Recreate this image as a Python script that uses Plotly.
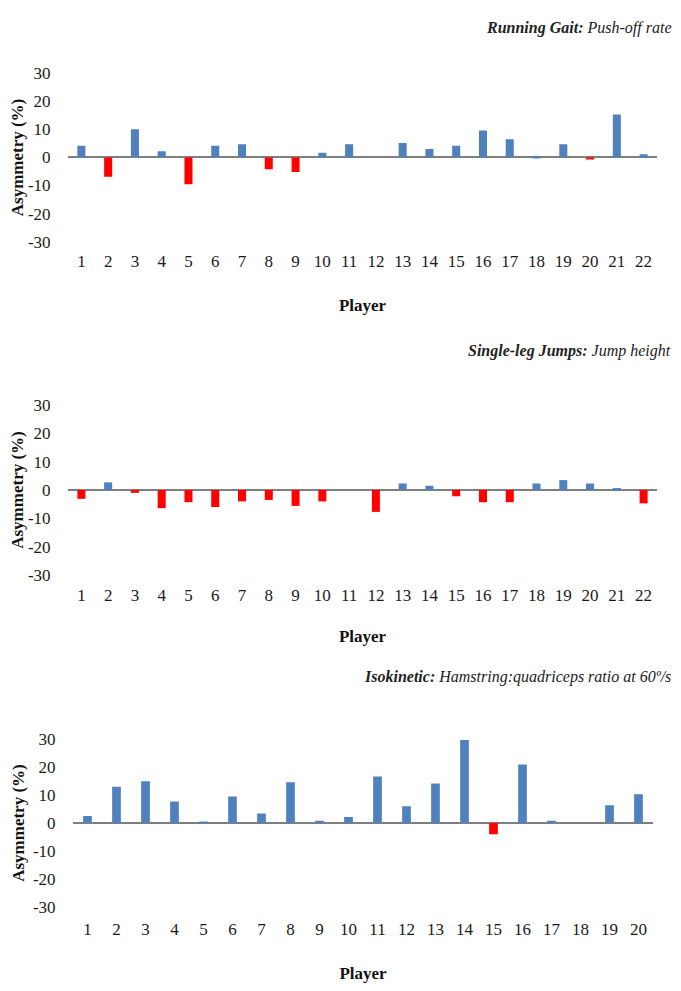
import plotly.graph_objects as go

# ---- data ----
players_gait = list(range(1, 23))
gait_pushoff = [4.2, -6.9, 10.1, 2.2, -9.5, 4.2, 4.7, -4.2, -5.2, 1.7, 4.7, 0.0,
                5.2, 3.0, 4.2, 9.6, 6.5, 0.5, 4.7, -0.7, 15.3, 1.2]

players_jump = list(range(1, 23))
jump_height = [-3.1, 2.7, -1.0, -6.4, -4.3, -6.0, -4.0, -3.5, -5.6, -4.0, 0.0, -7.7,
               2.3, 1.5, -2.2, -4.3, -4.3, 2.3, 3.5, 2.3, 0.7, -4.7]

players_iso = list(range(1, 21))
iso_hq_ratio = [2.5, 13.0, 15.0, 7.7, 0.5, 9.5, 3.4, 14.6, 0.8, 2.2, 16.7, 6.0,
                14.2, 29.8, -4.0, 21.0, 0.8, 0.0, 6.4, 10.3]

y_ticks = [-30, -20, -10, 0, 10, 20, 30]
y_tick_labels = ["-30", "-20", "-10", "0", "10", "20", "30"]

titles = [
    "<b><i>Running Gait:</i></b> <i>Push-off rate</i>",
    "<b><i>Single-leg Jumps:</i></b> <i>Jump height</i>",
    "<b><i>Isokinetic:</i></b> <i>Hamstring:quadriceps ratio at 60º/s</i>",
]

BLUE = "#4F81BD"
RED = "#FF0000"
W, H = 665, 975
FONT = "Liberation Serif"

def py(px):
    return 1 - px / H

def pxx(px):
    return px / W

# positions in figure pixels
panels = [
    dict(x=players_gait, y=gait_pushoff, xd=(60, 649), yd=(58, 231), ty=0, anchor="top",
         tl=4, so=29),
    dict(x=players_jump, y=jump_height, xd=(60, 649), yd=(399, 574), ty=343, anchor="middle",
         tl=4, so=26),
    dict(x=players_iso, y=iso_hq_ratio, xd=(65, 645), yd=(743, 915), ty=679, anchor="middle",
         tl=7, so=32),
]

fig = go.Figure()
annotations = []
for i, p in enumerate(panels):
    n = "" if i == 0 else str(i + 1)
    colors = [BLUE if v >= 0 else RED for v in p["y"]]
    fig.add_trace(go.Bar(x=p["x"], y=p["y"], marker=dict(color=colors, line=dict(width=0)),
                         xaxis="x" + n, yaxis="y" + n, showlegend=False))
    fig.layout["xaxis" + n] = dict(
        domain=[pxx(p["xd"][0]), pxx(p["xd"][1])],
        anchor="y" + n,
        range=[0.5, len(p["x"]) + 0.5],
        tickmode="array", tickvals=p["x"], ticktext=[str(v) for v in p["x"]],
        showgrid=False, zeroline=False, showline=False,
        ticks="outside", ticklen=p["tl"], tickcolor="rgba(0,0,0,0)",
        tickfont=dict(family=FONT, size=17, color="#1a1a1a"),
        title=dict(text="<b>Player</b>", font=dict(family=FONT, size=17, color="#111111"),
                   standoff=p["so"]),
    )
    fig.layout["yaxis" + n] = dict(
        domain=[py(p["yd"][1]), py(p["yd"][0])],
        anchor="x" + n,
        range=[-30, 30],
        tickmode="array", tickvals=y_ticks, ticktext=y_tick_labels,
        showgrid=False, showline=False,
        zeroline=True, zerolinecolor="#7F7F7F", zerolinewidth=1.5,
        ticks="outside", ticklen=13, tickcolor="rgba(0,0,0,0)",
        tickfont=dict(family=FONT, size=17, color="#1a1a1a"),
        title=dict(text="<b>Asymmetry (%)</b>", font=dict(family=FONT, size=17, color="#111111"),
                   standoff=3),
    )
    annotations.append(dict(text=titles[i], x=1.0, y=py(p["ty"]), xref="paper", yref="paper",
                            xanchor="right", yanchor=p["anchor"], showarrow=False,
                            font=dict(family=FONT, size=16, color="#222222")))

fig.update_layout(
    width=W, height=H,
    margin=dict(l=0, r=0, t=0, b=0),
    paper_bgcolor="white", plot_bgcolor="white",
    bargap=0.7,
    annotations=annotations,
)

fig.write_html("out.html")
